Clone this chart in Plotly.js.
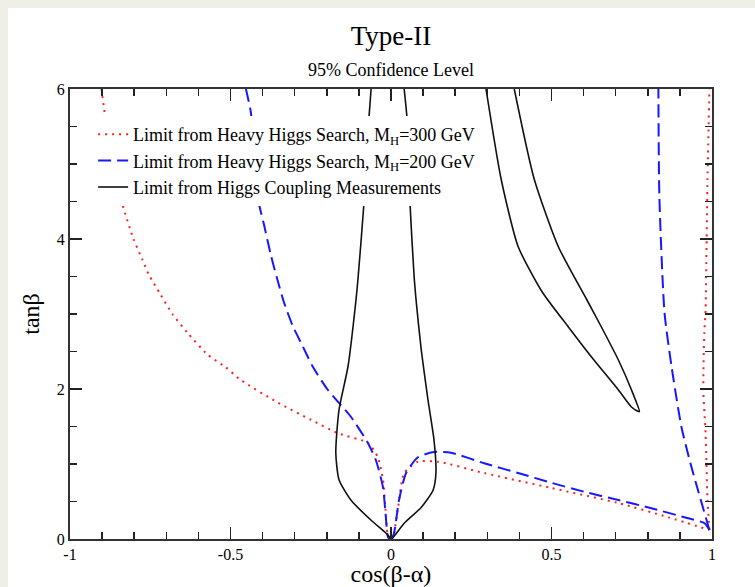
<!DOCTYPE html>
<html>
<head>
<meta charset="utf-8">
<script src="https://cdn.plot.ly/plotly-3.0.1.min.js"></script>
<style>
  html, body { margin: 0; padding: 0; background: #efefe8; }
  #chart { position: absolute; left: 8px; top: 8px; width: 747px; height: 579px; background: #ffffff; }
</style>
</head>
<body>
<div id="chart"></div>
<script>
// Heavy Higgs search limit, M_H = 300 GeV (left branch, right arc, right edge)
const h300LeftX = [-0.902, -0.889, -0.837, -0.802, -0.775, -0.755, -0.718, -0.681, -0.634, -0.572, -0.515, -0.468, -0.353, -0.250, -0.165, -0.072, -0.041, -0.025, -0.016, -0.009, 0.000];
const h300LeftY = [6.00, 5.60, 4.47, 4.00, 3.73, 3.53, 3.26, 3.00, 2.75, 2.46, 2.29, 2.12, 1.82, 1.59, 1.41, 1.28, 1.09, 0.79, 0.34, 0.02, 0.00];
const h300ArcX = [0.000, 0.006, 0.022, 0.041, 0.084, 0.147, 0.290, 0.499, 0.708, 0.864, 0.992];
const h300ArcY = [0.00, 0.02, 0.42, 0.88, 1.03, 1.03, 0.88, 0.68, 0.48, 0.29, 0.12];
const h300EdgeX = [0.992, 0.986, 0.980, 0.973, 0.976, 0.980, 0.983, 0.986, 0.992];
const h300EdgeY = [0.12, 0.52, 1.41, 1.99, 2.75, 3.06, 3.90, 4.80, 6.00];

// Heavy Higgs search limit, M_H = 200 GeV
const h200LeftX = [-0.452, -0.437, -0.424, -0.411, -0.395, -0.374, -0.354, -0.333, -0.306, -0.275, -0.244, -0.197, -0.125, -0.072, -0.047, -0.025, -0.016, -0.009, 0.000];
const h200LeftY = [6.00, 5.70, 5.10, 4.47, 4.18, 3.78, 3.46, 3.15, 2.84, 2.57, 2.30, 1.99, 1.63, 1.28, 1.05, 0.69, 0.29, 0.02, 0.00];
const h200ArcX = [0.000, 0.009, 0.025, 0.047, 0.084, 0.134, 0.187, 0.290, 0.396, 0.499, 0.602, 0.708, 0.811, 0.914, 0.977, 0.992];
const h200ArcY = [0.00, 0.07, 0.52, 0.88, 1.09, 1.16, 1.15, 1.01, 0.88, 0.75, 0.63, 0.52, 0.41, 0.29, 0.21, 0.12];
const h200EdgeX = [0.992, 0.936, 0.905, 0.874, 0.852, 0.836, 0.833];
const h200EdgeY = [0.12, 0.96, 1.49, 2.30, 3.02, 4.57, 6.00];

// Higgs coupling measurements: central band around cos(beta-alpha) = 0
const coupCenterX = [-0.062, -0.069, -0.084, -0.103, -0.109, -0.134, -0.162, -0.172, -0.162, -0.125, -0.062, -0.016, 0.000,
                     0.006, 0.041, 0.094, 0.131, 0.140, 0.134, 0.115, 0.094, 0.078, 0.072, 0.059, 0.050, 0.041];
const coupCenterY = [6.00, 5.60, 4.49, 3.46, 3.19, 2.30, 1.72, 1.15, 0.79, 0.52, 0.25, 0.08, 0.01,
                     0.02, 0.21, 0.42, 0.65, 0.88, 1.32, 1.86, 2.53, 3.19, 3.50, 4.49, 5.60, 6.00];

// Higgs coupling measurements: wrong-sign branch
const coupWrongX = [0.296, 0.343, 0.396, 0.470, 0.552, 0.624, 0.708, 0.749, 0.771,
                    0.774, 0.749, 0.708, 0.655, 0.610, 0.521, 0.446, 0.384];
const coupWrongY = [6.00, 4.80, 3.90, 3.30, 2.83, 2.43, 1.99, 1.76, 1.70,
                    1.70, 1.99, 2.39, 2.83, 3.19, 3.90, 4.80, 6.00];

const xTickVals = [-1, -0.5, 0, 0.5, 1];
const xTickText = ['-1', '-0.5', '0', '0.5', '1'];
const yTickVals = [0, 2, 4, 6];
const yTickText = ['0', '2', '4', '6'];

const serif = 'Liberation Serif, Times New Roman, serif';

const h300Line = { color: '#ff2020', width: 2, dash: '2px,5px', shape: 'spline', smoothing: 0.6 };
const h200Line = { color: '#1818ff', width: 2, dash: '13px,6px', shape: 'spline', smoothing: 0.6 };
const coupLine = { color: '#111111', width: 1.6, shape: 'spline', smoothing: 0.6 };

const h300Name = 'Limit from Heavy Higgs Search, M<sub>H</sub>=300 GeV';
const h200Name = 'Limit from Heavy Higgs Search, M<sub>H</sub>=200 GeV';
const coupName = 'Limit from Higgs Coupling Measurements';

function part(x, y, name, group, line, showlegend) {
  return { x: x, y: y, type: 'scatter', mode: 'lines', name: name,
           legendgroup: group, showlegend: showlegend, line: line, hoverinfo: 'skip' };
}

const traces = [
  part(h300LeftX, h300LeftY, h300Name, 'a', h300Line, true),
  part(h300ArcX, h300ArcY, h300Name, 'a', h300Line, false),
  part(h300EdgeX, h300EdgeY, h300Name, 'a', h300Line, false),
  part(h200LeftX, h200LeftY, h200Name, 'b', h200Line, true),
  part(h200ArcX, h200ArcY, h200Name, 'b', h200Line, false),
  part(h200EdgeX, h200EdgeY, h200Name, 'b', h200Line, false),
  part(coupCenterX, coupCenterY, coupName, 'c', coupLine, true),
  part(coupWrongX, coupWrongY, coupName, 'c', coupLine, false)
];

const axisCommon = {
  showgrid: false, zeroline: false,
  showline: true, linecolor: '#333333', linewidth: 2, mirror: 'allticks',
  ticks: 'inside', ticklen: 12, tickwidth: 1.5, tickcolor: '#222222',
  tickfont: { family: serif, size: 16, color: '#000000' },
  fixedrange: true
};

const layout = {
  width: 747, height: 579,
  paper_bgcolor: '#ffffff', plot_bgcolor: '#ffffff',
  margin: { l: 62, r: 43, t: 81, b: 48 },
  showlegend: true,
  title: {
    text: 'Type-II',
    font: { family: serif, size: 27, color: '#000000' },
    x: 0.5, xref: 'paper', xanchor: 'center',
    y: 0.952, yref: 'container', yanchor: 'middle'
  },
  annotations: [{
    text: '95% Confidence Level',
    xref: 'paper', yref: 'paper', x: 0.5, y: 1.042,
    xanchor: 'center', yanchor: 'middle', showarrow: false,
    font: { family: serif, size: 18, color: '#000000' }
  }],
  xaxis: Object.assign({}, axisCommon, {
    range: [-1, 1],
    tickvals: xTickVals, ticktext: xTickText,
    minor: { dtick: 0.1, ticks: 'inside', ticklen: 7, tickwidth: 1.5, tickcolor: '#222222' },
    title: { text: 'cos(β-α)', font: { family: serif, size: 24, color: '#000000' }, standoff: 3 }
  }),
  yaxis: Object.assign({}, axisCommon, {
    range: [0, 6],
    tickvals: yTickVals, ticktext: yTickText,
    minor: { dtick: 0.5, ticks: 'inside', ticklen: 7, tickwidth: 1.5, tickcolor: '#222222' },
    title: { text: 'tanβ', font: { family: serif, size: 24, color: '#000000' }, standoff: 10 }
  }),
  legend: {
    x: 0.036, y: 0.94, xanchor: 'left', yanchor: 'top',
    bgcolor: '#ffffff', borderwidth: 0,
    font: { family: serif, size: 18, color: '#000000' },
    tracegroupgap: 0,
    traceorder: 'grouped'
  }
};

Plotly.newPlot('chart', traces, layout, { displayModeBar: false, staticPlot: true });
</script>
</body>
</html>
